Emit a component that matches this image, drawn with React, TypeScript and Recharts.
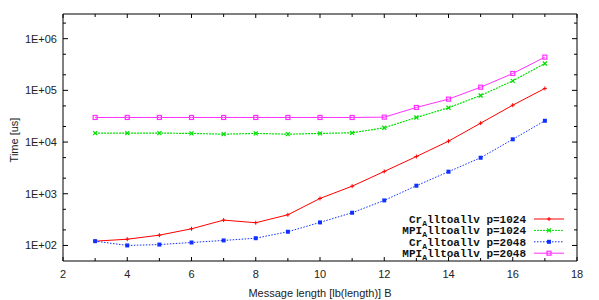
import { LineChart, Line, XAxis, YAxis } from "recharts";

const lengths = [3, 4, 5, 6, 7, 8, 9, 10, 11, 12, 13, 14, 15, 16, 17];
const cr1024 = [121, 132, 158, 210, 309, 275, 392, 811, 1400, 2700, 5250, 10400, 23200, 51700, 109000];
const mpi1024 = [14900, 14900, 14900, 14700, 14200, 14700, 14200, 14700, 15100, 18900, 29900, 46100, 79600, 153000, 331000];
const cr2048 = [121, 100, 104, 114, 125, 138, 184, 279, 429, 743, 1430, 2670, 4970, 11300, 25800];
const mpi2048 = [29900, 29900, 29900, 29900, 29900, 29900, 29900, 29900, 29900, 30300, 46700, 67600, 115000, 212000, 439000];

const xTicks = [2, 3, 4, 5, 6, 7, 8, 9, 10, 11, 12, 13, 14, 15, 16, 17, 18];
const yTicks = [100, 200, 500, 1000, 2000, 5000, 10000, 20000, 50000, 100000, 200000, 500000, 1000000, 2000000];
const yLabels: Record<number, string> = {
  100: "1E+02",
  1000: "1E+03",
  10000: "1E+04",
  100000: "1E+05",
  1000000: "1E+06",
};

const data = lengths.map((x, i) => ({
  x,
  cr1024: cr1024[i],
  mpi1024: mpi1024[i],
  cr2048: cr2048[i],
  mpi2048: mpi2048[i],
}));

const RED = "#ff0000";
const GREEN = "#00e000";
const BLUE = "#1030ff";
const MAGENTA = "#ff30ff";
const FONT = "'Liberation Sans', Arial, sans-serif";
const MONO = "'Liberation Mono', 'Courier New', monospace";

const isMajorY = (v: number) => yLabels[v] !== undefined;

function LeftTick(props: any) {
  const { x, y, payload } = props;
  const ax = x + 5;
  const major = isMajorY(payload.value);
  return (
    <g>
      <line x1={ax} x2={ax + (major ? 5 : 3)} y1={y} y2={y} stroke="#000" />
      {major && (
        <text x={x - 1} y={y} dy={4} textAnchor="end" fontSize={11} fontFamily={FONT} fill="#222">
          {yLabels[payload.value]}
        </text>
      )}
    </g>
  );
}

function RightTick(props: any) {
  const { x, y, payload } = props;
  const major = isMajorY(payload.value);
  return <line x1={x} x2={x - (major ? 5 : 3)} y1={y} y2={y} stroke="#000" />;
}

function BottomTick(props: any) {
  const { x, y, payload } = props;
  const major = payload.value % 2 === 0;
  return (
    <g>
      <line x1={x} x2={x} y1={y} y2={y - (major ? 4 : 3)} stroke="#000" />
      {major && (
        <text x={x} y={y + 17} textAnchor="middle" fontSize={11} fontFamily={FONT} fill="#222">
          {payload.value}
        </text>
      )}
    </g>
  );
}

function TopTick(props: any) {
  const { x, y, payload } = props;
  const major = payload.value % 2 === 0;
  return <line x1={x} x2={x} y1={y} y2={y + (major ? 4 : 3)} stroke="#000" />;
}

function Plus(props: any) {
  const { cx, cy } = props;
  return (
    <g stroke={RED} strokeWidth={1}>
      <line x1={cx - 2} x2={cx + 2} y1={cy} y2={cy} />
      <line x1={cx} x2={cx} y1={cy - 2} y2={cy + 2} />
    </g>
  );
}

function Cross(props: any) {
  const { cx, cy } = props;
  return (
    <g stroke={GREEN} strokeWidth={1.2}>
      <line x1={cx - 2} x2={cx + 2} y1={cy - 2} y2={cy + 2} />
      <line x1={cx - 2} x2={cx + 2} y1={cy + 2} y2={cy - 2} />
    </g>
  );
}

function FilledBox(props: any) {
  const { cx, cy } = props;
  return <rect x={cx - 2} y={cy - 2} width={4} height={4} fill={BLUE} />;
}

function OpenBox(props: any) {
  const { cx, cy } = props;
  return <rect x={cx - 2} y={cy - 2} width={4} height={4} fill="none" stroke={MAGENTA} strokeWidth={1.2} />;
}

const legendRows = [
  { label: "p=1024", prefix: "Cr", color: RED, dash: undefined, Mark: Plus },
  { label: "p=1024", prefix: "MPI", color: GREEN, dash: "2 1", Mark: Cross },
  { label: "p=2048", prefix: "Cr", color: BLUE, dash: "1.5 1.5", Mark: FilledBox },
  { label: "p=2048", prefix: "MPI", color: MAGENTA, dash: undefined, Mark: OpenBox },
];

function LegendBox() {
  return (
    <svg width={599} height={300} style={{ position: "absolute", left: 0, top: 0, pointerEvents: "none" }}>
      {legendRows.map((r, i) => {
        const y = 219 + i * 11.4;
        return (
          <g key={i}>
            <text x={526} y={y + 4} textAnchor="end" fontSize={11} fontFamily={MONO} fontWeight="bold" fill="#111">
              {r.prefix}
              <tspan fontSize={8} dy={3}>A</tspan>
              <tspan dy={-3}>{`lltoallv ${r.label}`}</tspan>
            </text>
            <line x1={534} x2={564} y1={y} y2={y} stroke={r.color} strokeWidth={1} strokeDasharray={r.dash} />
            <r.Mark cx={549} cy={y} />
          </g>
        );
      })}
    </svg>
  );
}

export default function App() {
  return (
    <div style={{ position: "absolute", left: 0, top: 0, width: 599, height: 300, background: "#fff" }}>
      <LineChart width={599} height={300} data={data} margin={{ top: 0, right: 0, bottom: 0, left: 0 }}>
        <XAxis
          xAxisId="b"
          dataKey="x"
          type="number"
          domain={[2, 18]}
          ticks={xTicks}
          interval={0}
          height={39}
          tickSize={0}
          tickMargin={0}
          tickLine={false}
          axisLine={{ stroke: "#000" }}
          tick={<BottomTick />}
        />
        <XAxis
          xAxisId="t"
          orientation="top"
          dataKey="x"
          type="number"
          domain={[2, 18]}
          ticks={xTicks}
          interval={0}
          height={14}
          tickSize={0}
          tickMargin={0}
          tickLine={false}
          axisLine={{ stroke: "#000" }}
          tick={<TopTick />}
        />
        <YAxis
          yAxisId="l"
          scale="log"
          type="number"
          domain={[50, 3000000]}
          allowDataOverflow
          ticks={yTicks}
          interval={0}
          width={63}
          tickSize={0}
          tickMargin={5}
          tickLine={false}
          axisLine={{ stroke: "#000" }}
          tick={<LeftTick />}
        />
        <YAxis
          yAxisId="r"
          orientation="right"
          scale="log"
          type="number"
          domain={[50, 3000000]}
          allowDataOverflow
          ticks={yTicks}
          interval={0}
          width={22}
          tickSize={0}
          tickMargin={0}
          tickLine={false}
          axisLine={{ stroke: "#000" }}
          tick={<RightTick />}
        />
        <Line xAxisId="b" yAxisId="l" dataKey="cr1024" stroke={RED} strokeWidth={1} dot={<Plus />} isAnimationActive={false} />
        <Line xAxisId="b" yAxisId="l" dataKey="mpi1024" stroke={GREEN} strokeWidth={1.2} strokeDasharray="2 1" dot={<Cross />} isAnimationActive={false} />
        <Line xAxisId="b" yAxisId="l" dataKey="cr2048" stroke={BLUE} strokeWidth={1} strokeDasharray="1.5 1.5" dot={<FilledBox />} isAnimationActive={false} />
        <Line xAxisId="b" yAxisId="l" dataKey="mpi2048" stroke={MAGENTA} strokeWidth={1} dot={<OpenBox />} isAnimationActive={false} />
      </LineChart>
      <LegendBox />
      <div
        style={{
          position: "absolute",
          left: 14,
          top: 140,
          transform: "translate(-50%, -50%) rotate(-90deg)",
          fontFamily: FONT,
          fontSize: 11,
          color: "#222",
          whiteSpace: "nowrap",
        }}
      >
        Time [us]
      </div>
      <div
        style={{
          position: "absolute",
          left: 320,
          top: 293,
          transform: "translate(-50%, -50%)",
          fontFamily: FONT,
          fontSize: 11,
          color: "#222",
          whiteSpace: "nowrap",
        }}
      >
        Message length [lb(length)] B
      </div>
    </div>
  );
}
